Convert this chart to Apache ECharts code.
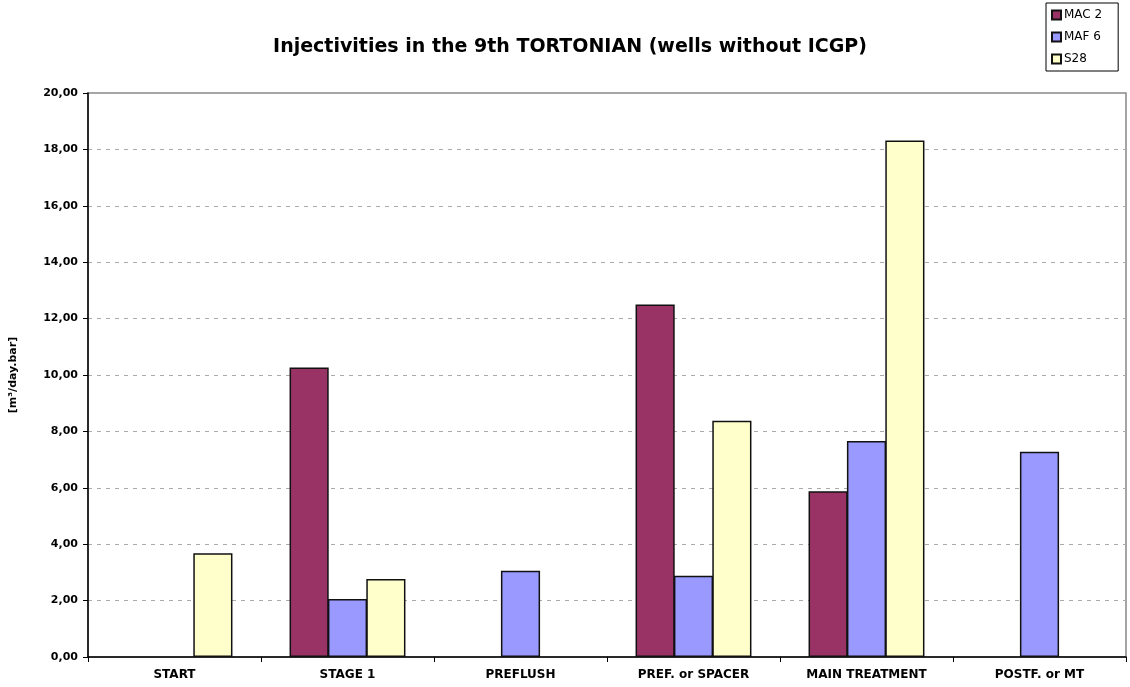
<!DOCTYPE html>
<html>
<head>
<meta charset="utf-8">
<script src="https://cdn.jsdelivr.net/npm/echarts@6/dist/echarts.min.js"></script>
<style>
  html, body { margin: 0; padding: 0; background: #fff; }
  #chart { width: 1130px; height: 687px; }
</style>
</head>
<body>
<div id="chart"></div>
<script>
// Injectivity per treatment stage, wells without ICGP
const categories = ['START', 'STAGE 1', 'PREFLUSH', 'PREF. or SPACER', 'MAIN TREATMENT', 'POSTF. or MT'];
const seriesNames = ['MAC 2', 'MAF 6', 'S28'];
const mac2 = [null, 10.27, null, 12.5, 5.88, null];
const maf6 = [null, 2.06, 3.06, 2.88, 7.66, 7.28];
const s28  = [3.68, 2.77, null, 8.38, 18.32, null];
const seriesColors = ['#993366', '#9999FF', '#FFFFCC'];
const yTicks = { min: 0, max: 20, interval: 2 };

const chart = echarts.init(document.getElementById('chart'), null, { renderer: 'canvas' });
const font = 'DejaVu Sans, Verdana, sans-serif';

const values = [mac2, maf6, s28];
const series = seriesNames.map((name, i) => ({
  name: name,
  type: 'bar',
  data: values[i],
  barGap: '-2%',
  barCategoryGap: '33%',
  itemStyle: { color: seriesColors[i], borderColor: '#111', borderWidth: 1.5 },
  emphasis: { disabled: true }
}));

chart.setOption({
  animation: false,
  backgroundColor: '#fff',
  title: {
    text: 'Injectivities in the 9th TORTONIAN (wells without ICGP)',
    left: 565,
    top: 33,
    textAlign: 'center',
    textStyle: { fontFamily: font, fontSize: 19, fontWeight: 'bold', color: '#000' }
  },
  legend: {
    orient: 'vertical',
    left: 1046,
    top: 3,
    padding: [6, 16, 6, 5],
    itemWidth: 9,
    itemHeight: 9,
    itemGap: 10,
    icon: 'rect',
    borderColor: '#000',
    borderWidth: 1,
    textStyle: { fontFamily: font, fontSize: 12, color: '#000', padding: [0, 0, 0, -2] },
    data: seriesNames
  },
  grid: {
    left: 87,
    right: 4,
    top: 93,
    bottom: 30,
    show: true,
    borderColor: '#888',
    borderWidth: 1.5,
    containLabel: false
  },
  xAxis: {
    type: 'category',
    data: categories,
    axisLine: { lineStyle: { color: '#000', width: 1.5 } },
    axisTick: { show: true, length: 5, lineStyle: { color: '#000' } },
    axisLabel: { fontFamily: font, fontSize: 12, fontWeight: 'bold', color: '#000', margin: 12 },
    splitLine: { show: false }
  },
  yAxis: {
    type: 'value',
    min: yTicks.min,
    max: yTicks.max,
    interval: yTicks.interval,
    name: '[m³/day.bar]',
    nameLocation: 'middle',
    nameGap: 69,
    nameRotate: 90,
    nameTextStyle: { fontFamily: font, fontSize: 11, fontWeight: 'bold', color: '#000' },
    axisLine: { show: true, lineStyle: { color: '#000', width: 1.5 } },
    axisTick: { show: true, length: 5, lineStyle: { color: '#000' } },
    axisLabel: {
      fontFamily: font, fontSize: 11, fontWeight: 'bold', color: '#000', margin: 10,
      formatter: v => v.toFixed(2).replace('.', ',')
    },
    splitLine: {
      show: true,
      showMinLine: false,
      showMaxLine: false,
      lineStyle: { color: '#aaa', type: [4, 5], width: 1 }
    }
  },
  series: series
});
</script>
</body>
</html>
